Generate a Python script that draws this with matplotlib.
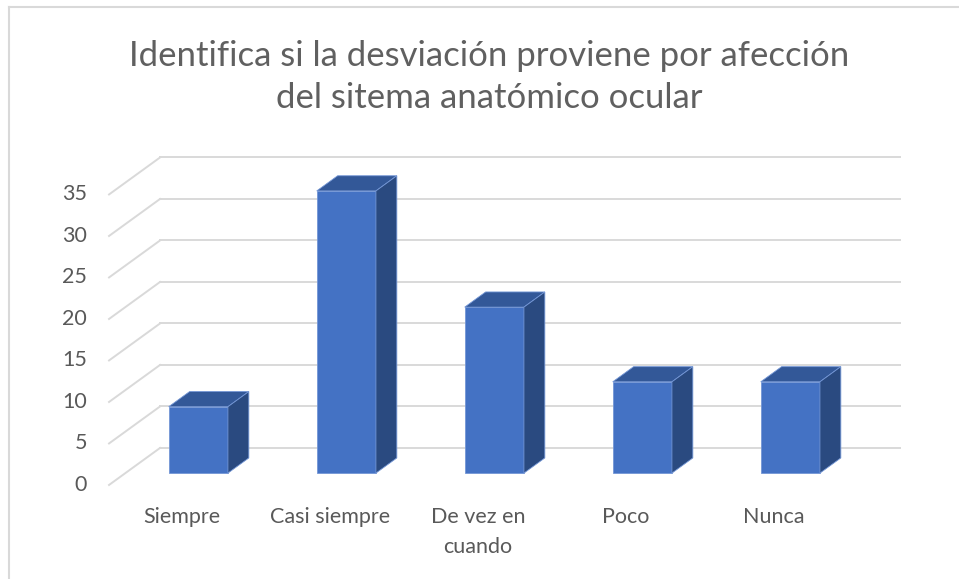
import matplotlib
matplotlib.use('Agg')
import matplotlib.pyplot as plt
from matplotlib.patches import Polygon
from matplotlib.lines import Line2D
import numpy as np

# datos de la encuesta
categorias = ['Siempre', 'Casi siempre', 'De vez en\ncuando', 'Poco', 'Nunca']
valores = [8, 34, 20, 11, 11]
ticks = [0, 5, 10, 15, 20, 25, 30, 35]
titulo = 'Identifica si la desviación proviene por afección\ndel sitema anatómico ocular'

plt.rcParams['font.family'] = ['Lato', 'DejaVu Sans']
gris = '#595959'
cara = '#4472C4'
techo = '#335898'
lado = '#2a4a80'
borde = '#7396d6'

fig = plt.figure(figsize=(9.59, 5.79), dpi=100, facecolor='white')
ax = fig.add_axes([0, 0, 1, 1])
ax.set_xlim(-1.2297, 5.25)
ax.set_ylim(-11.33, 58.43)
ax.axis('off')

# profundidad del suelo (perspectiva)
dx, dy = 0.3446, 4.458
x_izq, x_der = -0.493, 4.851

# cuadricula: pared del fondo + diagonales del lado izquierdo
for t in ticks:
    ax.plot([x_izq + dx, x_der], [t + dy, t + dy], color='#d9d9d9', lw=1.4, zorder=1)
    ax.plot([x_izq, x_izq + dx], [t, t + dy], color='#d9d9d9', lw=1.4, zorder=1)
    ax.text(x_izq - 0.15, t, str(t), ha='right', va='center', fontsize=15.5, color=gris)

# barras en 3D: cara frontal, lateral y superior
ancho = 0.4
f0, f1 = 0.32, 0.73
for i, v in enumerate(valores):
    x0 = i - ancho / 2 + f0 * dx
    y0 = f0 * dy
    ox, oy = (f1 - f0) * dx, (f1 - f0) * dy
    ax.bar(x0, v, width=ancho, bottom=y0, align='edge', color=cara,
           edgecolor=borde, linewidth=0.6, zorder=3)
    top = [(x0, y0 + v), (x0 + ancho, y0 + v), (x0 + ancho + ox, y0 + v + oy), (x0 + ox, y0 + v + oy)]
    ax.add_patch(Polygon(top, closed=True, facecolor=techo, edgecolor=borde, lw=0.6, zorder=3))
    side = [(x0 + ancho, y0), (x0 + ancho + ox, y0 + oy), (x0 + ancho + ox, y0 + v + oy), (x0 + ancho, y0 + v)]
    ax.add_patch(Polygon(side, closed=True, facecolor=lado, edgecolor=borde, lw=0.6, zorder=3))
    ax.text(i, -2.7, categorias[i], ha='center', va='top', fontsize=15.5, color=gris,
            linespacing=1.6)

fig.text(489 / 959, 1 - 77 / 579, titulo, ha='center', va='center', fontsize=25,
         color='#606060', linespacing=1.42)

# marco del grafico
fig.add_artist(Line2D([8.5 / 959, 8.5 / 959], [0, 1 - 6.5 / 579], color='#d9d9d9', lw=1.5))
fig.add_artist(Line2D([8.5 / 959, 1], [1 - 6.5 / 579, 1 - 6.5 / 579], color='#d9d9d9', lw=1.5))

plt.savefig('out.png', dpi=100, facecolor='white')
